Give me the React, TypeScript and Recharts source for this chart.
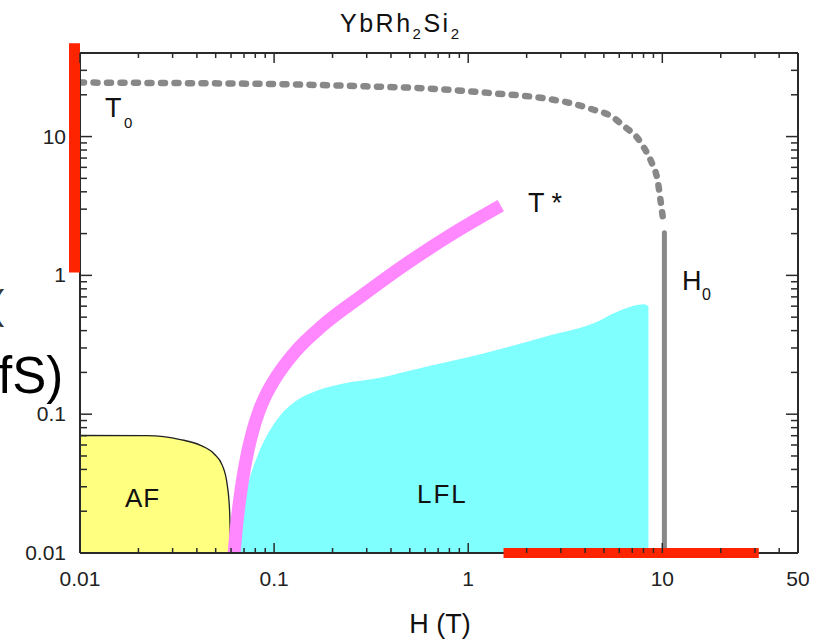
import React from "react";
import {
  ComposedChart,
  Area,
  Line,
  XAxis,
  YAxis,
  ReferenceLine,
} from "recharts";

// phase diagram of YbRh2Si2, field H (T) vs temperature (K), log-log
const X_TICKS = [
  0.01, 0.02, 0.03, 0.04, 0.05, 0.06, 0.07, 0.08, 0.09,
  0.1, 0.2, 0.3, 0.4, 0.5, 0.6, 0.7, 0.8, 0.9,
  1, 2, 3, 4, 5, 6, 7, 8, 9,
  10, 20, 30, 40, 50,
];
const X_LABELS = [0.01, 0.1, 1, 10, 50];
const Y_TICKS = [
  0.01, 0.02, 0.03, 0.04, 0.05, 0.06, 0.07, 0.08, 0.09,
  0.1, 0.2, 0.3, 0.4, 0.5, 0.6, 0.7, 0.8, 0.9,
  1, 2, 3, 4, 5, 6, 7, 8, 9,
  10, 20, 30, 40,
];
const Y_LABELS = [0.01, 0.1, 1, 10];

// AF dome
const afData = [
  { h: 0.01, t: 0.0702 },
  { h: 0.0221, t: 0.07 },
  { h: 0.0329, t: 0.0657 },
  { h: 0.0418, t: 0.0596 },
  { h: 0.049, t: 0.0519 },
  { h: 0.0541, t: 0.0428 },
  { h: 0.0574, t: 0.0307 },
  { h: 0.059, t: 0.0198 },
  { h: 0.0597, t: 0.01 },
];

// Landau Fermi liquid region
const lflData = [
  { h: 0.0634, t: 0.01 },
  { h: 0.0657, t: 0.015 },
  { h: 0.0697, t: 0.0227 },
  { h: 0.0753, t: 0.0355 },
  { h: 0.0829, t: 0.0519 },
  { h: 0.0928, t: 0.0722 },
  { h: 0.107, t: 0.0972 },
  { h: 0.1295, t: 0.1246 },
  { h: 0.1643, t: 0.147 },
  { h: 0.2213, t: 0.165 },
  { h: 0.3565, t: 0.184 },
  { h: 0.53, t: 0.21 },
  { h: 1.17, t: 0.271 },
  { h: 2.59, t: 0.367 },
  { h: 4.52, t: 0.457 },
  { h: 5.74, t: 0.54 },
  { h: 8.05, t: 0.62 },
  { h: 8.48, t: 0.6 },
];

// T* crossover
const tStarData = [
  { h: 0.0622, t: 0.01 },
  { h: 0.064, t: 0.0155 },
  { h: 0.0663, t: 0.0235 },
  { h: 0.0692, t: 0.0355 },
  { h: 0.0731, t: 0.0536 },
  { h: 0.0774, t: 0.0746 },
  { h: 0.0833, t: 0.1039 },
  { h: 0.0897, t: 0.1331 },
  { h: 0.0988, t: 0.1705 },
  { h: 0.1112, t: 0.2186 },
  { h: 0.128, t: 0.2801 },
  { h: 0.1786, t: 0.4377 },
  { h: 0.281, t: 0.707 },
  { h: 0.4917, t: 1.24 },
  { h: 0.85, t: 2.035 },
  { h: 1.471, t: 3.18 },
];

// T0 (dotted)
const t0Data = [
  { h: 0.01, t: 24.5 },
  { h: 0.03, t: 24.3 },
  { h: 0.1, t: 23.9 },
  { h: 0.3, t: 23.0 },
  { h: 0.62, t: 22.2 },
  { h: 1.35, t: 20.5 },
  { h: 2.44, t: 18.9 },
  { h: 3.5, t: 17.2 },
  { h: 4.43, t: 15.6 },
  { h: 5.32, t: 14.3 },
  { h: 6.44, t: 11.7 },
  { h: 7.43, t: 9.8 },
  { h: 8.18, t: 8.0 },
  { h: 8.89, t: 6.3 },
  { h: 9.44, t: 4.9 },
  { h: 9.78, t: 3.5 },
  { h: 10.1, t: 2.5 },
];

// H0 vertical
const h0Data = [
  { h: 10.25, t: 0.01 },
  { h: 10.25, t: 2.03 },
];

const FONT = "'Liberation Sans', Arial, sans-serif";
const AXIS = "#2a2a2a";
const TEXT = "#222";
const RED = "#ff2400";

const fmt = (v: number) => String(v);

function BottomTick({ x, y, payload }: any) {
  const major = X_LABELS.includes(payload.value);
  return (
    <g>
      <line x1={x} x2={x} y1={y} y2={y - (major ? 10 : 5)} stroke={AXIS} strokeWidth={1.5} />
      {major && (
        <text x={x} y={y + 33} textAnchor="middle" fontSize={21} fill={TEXT} fontFamily={FONT}>
          {fmt(payload.value)}
        </text>
      )}
    </g>
  );
}

function TopTick({ x, y, payload }: any) {
  const major = X_LABELS.includes(payload.value);
  return <line x1={x} x2={x} y1={y} y2={y + (major ? 10 : 5)} stroke={AXIS} strokeWidth={1.5} />;
}

function LeftTick({ x, y, payload }: any) {
  const major = Y_LABELS.includes(payload.value);
  return (
    <g>
      <line x1={x} x2={x + (major ? 12 : 7)} y1={y} y2={y} stroke={AXIS} strokeWidth={1.5} />
      {major && (
        <text x={x - 14} y={y + 7} textAnchor="end" fontSize={21} fill={TEXT} fontFamily={FONT}>
          {fmt(payload.value)}
        </text>
      )}
    </g>
  );
}

function RightTick({ x, y, payload }: any) {
  const major = Y_LABELS.includes(payload.value);
  return <line x1={x} x2={x - (major ? 12 : 7)} y1={y} y2={y} stroke={AXIS} strokeWidth={1.5} />;
}

export default function App() {
  return (
    <div style={{ position: "absolute", left: 0, top: 0, width: 830, height: 641, background: "#fff" }}>
      <ComposedChart
        width={830}
        height={641}
        margin={{ top: 51, right: 30, bottom: 8, left: 0 }}
      >
        <Area
          data={afData}
          dataKey="t"
          type="monotone"
          fill="#ffff80"
          fillOpacity={1}
          stroke="#222"
          strokeWidth={1.3}
          baseValue="dataMin"
          isAnimationActive={false}
        />
        <Area
          data={lflData}
          dataKey="t"
          type="monotone"
          fill="#80ffff"
          fillOpacity={1}
          stroke="none"
          baseValue="dataMin"
          isAnimationActive={false}
        />
        <Line
          data={tStarData}
          dataKey="t"
          type="monotone"
          stroke="#ff88ff"
          strokeWidth={13}
          dot={false}
          isAnimationActive={false}
        />
        <Line
          data={t0Data}
          dataKey="t"
          type="monotone"
          stroke="#888"
          strokeWidth={6.5}
          strokeDasharray="4 9.5"
          strokeLinecap="round"
          dot={false}
          isAnimationActive={false}
        />
        <Line
          data={h0Data}
          dataKey="t"
          type="linear"
          stroke="#888"
          strokeWidth={5}
          strokeLinecap="round"
          dot={false}
          isAnimationActive={false}
        />

        <XAxis
          dataKey="h"
          type="number"
          scale="log"
          domain={[0.01, 50]}
          allowDataOverflow
          ticks={X_TICKS}
          interval={0}
          height={80}
          tickSize={0}
          tickMargin={0}
          axisLine={{ stroke: AXIS, strokeWidth: 2 }}
          tickLine={false}
          tick={<BottomTick />}
        />
        <XAxis
          xAxisId="top"
          orientation="top"
          dataKey="h"
          type="number"
          scale="log"
          domain={[0.01, 50]}
          allowDataOverflow
          ticks={X_TICKS}
          interval={0}
          height={2}
          tickSize={0}
          tickMargin={0}
          axisLine={{ stroke: AXIS, strokeWidth: 2 }}
          tickLine={false}
          tick={<TopTick />}
        />
        <YAxis
          type="number"
          scale="log"
          domain={[0.01, 40]}
          allowDataOverflow
          ticks={Y_TICKS}
          interval={0}
          width={80}
          tickSize={0}
          tickMargin={0}
          axisLine={{ stroke: AXIS, strokeWidth: 2 }}
          tickLine={false}
          tick={<LeftTick />}
        />
        <YAxis
          yAxisId="right"
          orientation="right"
          type="number"
          scale="log"
          domain={[0.01, 40]}
          allowDataOverflow
          ticks={Y_TICKS}
          interval={0}
          width={2}
          tickSize={0}
          tickMargin={0}
          axisLine={{ stroke: AXIS, strokeWidth: 2 }}
          tickLine={false}
          tick={<RightTick />}
        />

        <ReferenceLine
          segment={[{ x: 1.52, y: 0.01 }, { x: 31.4, y: 0.01 }]}
          stroke={RED}
          strokeWidth={10}
          ifOverflow="visible"
          zIndex={900}
        />
        <ReferenceLine
          segment={[{ x: 0.00937, y: 1.05 }, { x: 0.00937, y: 47 }]}
          stroke={RED}
          strokeWidth={11}
          ifOverflow="visible"
          zIndex={900}
        />
      </ComposedChart>

      <svg
        width={830}
        height={641}
        style={{ position: "absolute", left: 0, top: 0, pointerEvents: "none", overflow: "visible" }}
        fontFamily={FONT}
        fill="#111"
      >
        <text x={340} y={32} fontSize={25} letterSpacing={2.5}>
          YbRh<tspan fontSize={15} dy={7}>2</tspan>
          <tspan dy={-7}>Si</tspan>
          <tspan fontSize={15} dy={7}>2</tspan>
        </text>
        <text x={440} y={633} fontSize={27} textAnchor="middle">H (T)</text>

        <text x={105} y={117} fontSize={27}>T</text>
        <text x={124} y={128} fontSize={15}>0</text>
        <text x={528} y={212} fontSize={27}>T *</text>
        <text x={682} y={290} fontSize={27}>H</text>
        <text x={702} y={300} fontSize={16}>0</text>
        <text x={125} y={507} fontSize={26} letterSpacing={1}>AF</text>
        <text x={417} y={503} fontSize={26} letterSpacing={2}>LFL</text>

        <text x={-2} y={393} fontSize={51} fill="#000">fS)</text>
        <text x={-9} y={319} fontSize={40} fill="#333">(</text>
      </svg>
    </div>
  );
}
